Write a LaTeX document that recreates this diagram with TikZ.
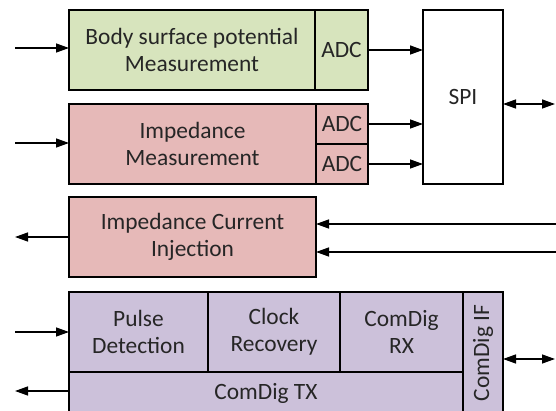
\documentclass[tikz,border=0pt]{standalone}
\usepackage{fontspec}
\setmainfont{Carlito}
\usetikzlibrary{arrows.meta, positioning}
\definecolor{bspgreen}{HTML}{D7E4BD}
\definecolor{impred}{HTML}{E6B9B8}
\definecolor{cdpurple}{HTML}{CCC1DA}

\begin{document}
\begin{tikzpicture}[
    x=1pt, y=-1pt,
    block/.style={rectangle, draw=black, line width=1.3pt, align=center, inner sep=0pt, outer sep=0pt, anchor=north west, text=black!85, font=\fontsize{23.4}{27}\selectfont},
    arrow/.style={-{Triangle[length=13pt, width=9pt]}, line width=1.4pt},
    biarrow/.style={{Triangle[length=13pt, width=9pt]}-{Triangle[length=13pt, width=9pt]}, line width=1.4pt},
]
    \useasboundingbox (0,0) rectangle (556,411);

    % measurement blocks
    \node[block, fill=bspgreen, minimum width=246pt, minimum height=80pt] (bsp) at (69,10) {Body surface potential\\Measurement};
    \node[block, fill=bspgreen, minimum width=53pt, minimum height=80pt] (adcA) at (315,10) {ADC};
    \node[block, fill=white, minimum width=80pt, minimum height=174pt] (spi) at (423,10) {SPI};
    \node[block, fill=impred, minimum width=247pt, minimum height=80pt] (imp) at (69,104) {Impedance\\Measurement};
    \node[block, fill=impred, minimum width=52pt, minimum height=40pt] (adcB) at (316,104) {ADC};
    \node[block, fill=impred, minimum width=52pt, minimum height=40pt] (adcC) at (316,144) {ADC};
    \node[block, fill=impred, minimum width=247pt, minimum height=80pt] (inj) at (69,197) {Impedance Current\\Injection};

    % communication blocks
    \node[block, fill=cdpurple, minimum width=394pt, minimum height=42pt] (tx) at (69,372) {ComDig TX};
    \node[block, fill=cdpurple, minimum width=139pt, minimum height=80pt] (pulse) at (69,292) {Pulse\\Detection};
    \node[block, fill=cdpurple, minimum width=132pt, minimum height=80pt] (clock) at (208,292) {Clock\\Recovery};
    \node[block, fill=cdpurple, minimum width=123pt, minimum height=80pt] (rx) at (340,292) {ComDig\\RX};
    \node[block, fill=cdpurple, rotate=90, anchor=center, minimum width=122pt, minimum height=40pt] (comif) at (483,353) {ComDig IF};

    \coordinate (bspin) at (15,48);
    \coordinate (impin) at (15,143);
    \coordinate (injout) at (15,237);
    \coordinate (injinA) at (556,224);
    \coordinate (injinB) at (556,252);
    \coordinate (pulsein) at (15,332);
    \coordinate (txout) at (15,391);
    \coordinate (spiio) at (555,104);
    \coordinate (ifio) at (555,359);

    \draw[arrow] (bspin) -- (bspin -| bsp.west);
    \draw[arrow] (adcA.east) -- (adcA.east -| spi.west);
    \draw[arrow] (impin) -- (impin -| imp.west);
    \draw[arrow] (adcB.east) -- (adcB.east -| spi.west);
    \draw[arrow] (adcC.east) -- (adcC.east -| spi.west);
    \draw[biarrow] (spiio -| spi.east) -- (spiio);
    \draw[arrow] (inj.west) -- (injout);
    \draw[arrow] (injinA) -- (injinA -| inj.east);
    \draw[arrow] (injinB) -- (injinB -| inj.east);
    \draw[arrow] (pulsein) -- (pulsein -| pulse.west);
    \draw[arrow] (txout -| tx.west) -- (txout);
    \draw[biarrow] (ifio -| comif.south) -- (ifio);
\end{tikzpicture}
\end{document}
